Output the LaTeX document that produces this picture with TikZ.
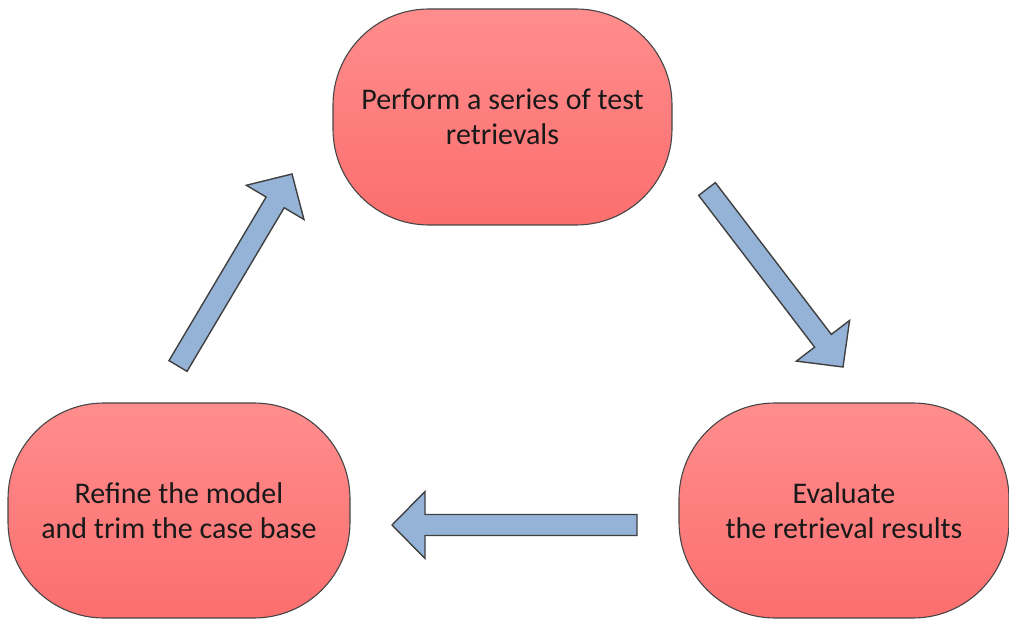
\documentclass[tikz,border=0pt]{standalone}
\usepackage{fontspec}
\setmainfont{Carlito}
\usetikzlibrary{calc}

\definecolor{boxtop}{RGB}{255,141,141}
\definecolor{boxbot}{RGB}{252,110,110}
\definecolor{boxline}{RGB}{70,70,70}
\definecolor{arrowfill}{RGB}{149,179,215}
\definecolor{arrowline}{RGB}{64,64,64}
\definecolor{textcol}{RGB}{25,25,25}

% block arrow from tail coordinate #1 to tip coordinate #2
\newcommand{\blockarrow}[2]{%
  \coordinate (hb) at ($(#2)!33pt!(#1)$);
  \draw[arrowstyle]
    ($(#1)!10.5pt!90:(#2)$) --
    ($(hb)!10.5pt!90:(#2)$) --
    ($(hb)!33.5pt!90:(#2)$) --
    (#2) --
    ($(hb)!33.5pt!-90:(#2)$) --
    ($(hb)!10.5pt!-90:(#2)$) --
    ($(#1)!10.5pt!-90:(#2)$) -- cycle;
}

\begin{document}
\begin{tikzpicture}[x=1pt,y=1pt,
  stage/.style={rectangle, rounded corners=96pt, draw=boxline, line width=1.1pt,
    top color=boxtop, bottom color=boxbot, align=center, text=textcol,
    font=\fontsize{30}{35}\selectfont, inner sep=0pt},
  arrowstyle/.style={draw=arrowline, line width=1.4pt, fill=arrowfill, line join=miter}]
\useasboundingbox (0,0) rectangle (1009,619);

\node[stage, minimum width=339pt, minimum height=216pt] (perform) at (502.5,502)
  {Perform a series of test\\retrievals};
\node[stage, minimum width=330pt, minimum height=215pt] (evaluate) at (844,108.5)
  {Evaluate\\the retrieval results};
\node[stage, minimum width=342pt, minimum height=215pt] (refine) at (179,108.5)
  {Refine the model\\and trim the case base};

% arrow end points
\coordinate (a1tail) at (707,430);
\coordinate (a1tip)  at (843,252);
\coordinate (a2tail) at (637,94);
\coordinate (a2tip)  at (392,94);
\coordinate (a3tail) at (178,253);
\coordinate (a3tip)  at (292,445);

\blockarrow{a1tail}{a1tip}
\blockarrow{a2tail}{a2tip}
\blockarrow{a3tail}{a3tip}
\end{tikzpicture}
\end{document}
